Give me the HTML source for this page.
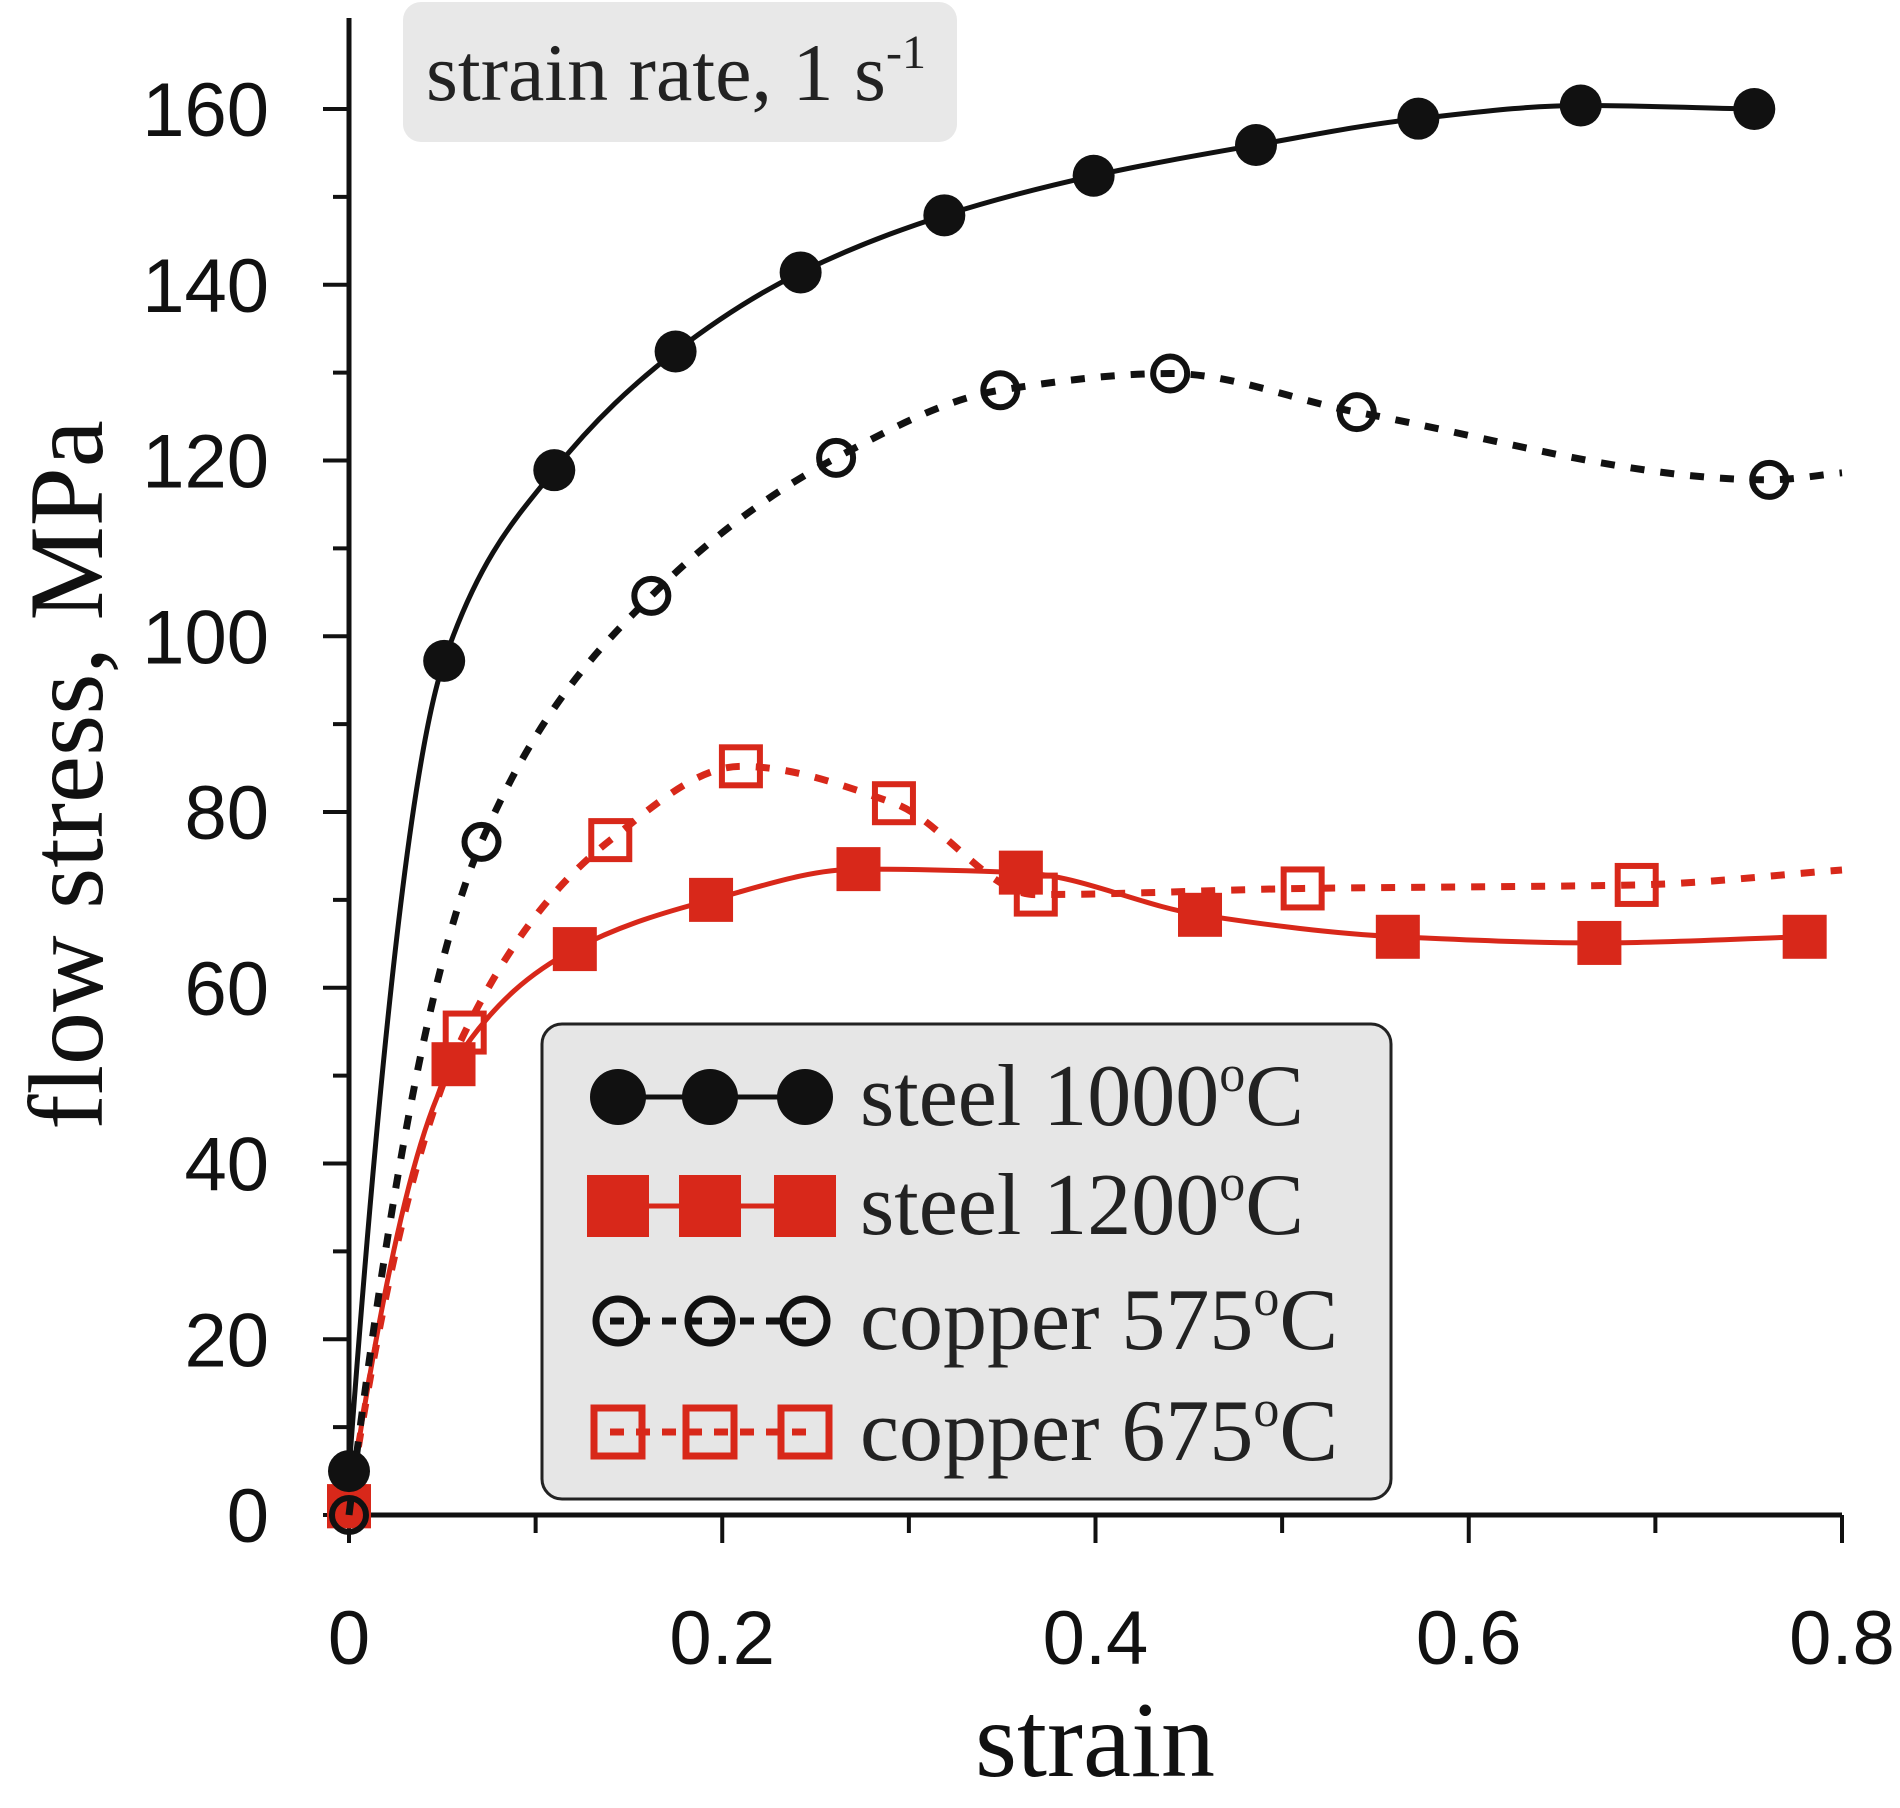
<!DOCTYPE html>
<html><head><meta charset="utf-8"><style>
html,body{margin:0;padding:0;background:#fff;}
svg{display:block;}
</style></head><body>
<svg id="chart" width="1900" height="1808" viewBox="0 0 1900 1808" xmlns="http://www.w3.org/2000/svg">
<rect x="403" y="2" width="554" height="140" rx="18" fill="#e8e8e8"/>
<text x="426" y="100" font-family="Liberation Serif, serif" font-size="82" fill="#222">strain rate, 1 s<tspan font-size="48" dy="-32">-1</tspan></text>
<g id="axes"></g>
<g id="series"></g>
<g id="legend"></g>
</svg>
<script>
const xTicks=[0,0.2,0.4,0.6,0.8];
const yTicks=[0,20,40,60,80,100,120,140,160];
const steel1000X=[0,0.051,0.11,0.175,0.242,0.319,0.399,0.486,0.573,0.66,0.753];
const steel1000Y=[5,97.2,118.9,132.4,141.4,147.9,152.4,155.9,158.9,160.4,160];
const copper575X=[0,0.071,0.162,0.261,0.349,0.44,0.54,0.761];
const copper575Y=[0,76.6,104.6,120.3,128,129.9,125.5,117.8];
const steel1200X=[0,0.056,0.121,0.194,0.273,0.36,0.456,0.562,0.67,0.78];
const steel1200Y=[1,51.3,64.4,70,73.5,73.1,68.3,65.8,65.1,65.8];
const copper675X=[0,0.062,0.14,0.21,0.292,0.368,0.511,0.69];
const copper675Y=[1,54.9,76.8,85.2,81,70.6,71.3,71.7];
const copper575EndX=0.8, copper575EndY=118.6;
const copper675EndX=0.8, copper675EndY=73.4;

const X0=349,X1=1842,Y0=1515,Y1=109;
const sx=v=>X0+(X1-X0)*v/0.8;
const sy=v=>Y0-(Y0-Y1)*v/160;
const NS='http://www.w3.org/2000/svg';
function mk(tag,attrs,parent){const e=document.createElementNS(NS,tag);for(const k in attrs)e.setAttribute(k,attrs[k]);parent.appendChild(e);return e;}
const axes=document.getElementById('axes');
const series=document.getElementById('series');
const legend=document.getElementById('legend');

let a=mk('line',{x1:X0,y1:Y0,x2:X0,y2:18,stroke:'#111','stroke-width':5},axes);


a=mk('line',{x1:X0,y1:Y0,x2:X1,y2:Y0,stroke:'#111','stroke-width':5},axes);


for(let v=0;v<=160;v+=10){const major=v%20===0;const t=mk('line',{x1:X0-(major?26:16),y1:sy(v),x2:X0,y2:sy(v),stroke:'#111','stroke-width':4},axes);

}
yTicks.forEach(v=>{const t=mk('text',{x:X0-80,y:sy(v)+27,'text-anchor':'end','font-family':'Liberation Sans, sans-serif','font-size':76,fill:'#111'},axes);t.textContent=v;

});
for(let i=0;i<=8;i++){const v=i*0.1;const major=i%2===0;const t=mk('line',{x1:sx(v),y1:Y0,x2:sx(v),y2:Y0+(major?28:18),stroke:'#111','stroke-width':4},axes);

}
xTicks.forEach(v=>{const t=mk('text',{x:sx(v),y:1664,'text-anchor':'middle','font-family':'Liberation Sans, sans-serif','font-size':76,fill:'#111'},axes);t.textContent=v===0?'0':String(v);

});
let tt=mk('text',{x:1095,y:1776,'text-anchor':'middle','font-family':'Liberation Serif, serif','font-size':108,fill:'#111'},axes);tt.textContent='strain';


tt=mk('text',{x:0,y:0,'text-anchor':'middle','font-family':'Liberation Serif, serif','font-size':106,fill:'#111',transform:'translate(102,775) rotate(-90)'},axes);tt.textContent='flow stress, MPa';



function smoothPath(xs,ys){
  const p=xs.map((x,i)=>[sx(x),sy(ys[i])]);
  const n=p.length;
  const d=[],m=[];
  for(let i=0;i<n-1;i++)d.push((p[i+1][1]-p[i][1])/(p[i+1][0]-p[i][0]));
  for(let i=0;i<n;i++){
    if(i===0)m.push(d[0]*1.6);
    else if(i===n-1)m.push(d[n-2]);
    else if(d[i-1]*d[i]<=0)m.push(0);
    else{const h0=p[i][0]-p[i-1][0],h1=p[i+1][0]-p[i][0];
      m.push(3*(h0+h1)/((2*h1+h0)/d[i-1]+(h1+2*h0)/d[i]));}
  }
  let s='M'+p[0][0]+','+p[0][1];
  for(let i=0;i<n-1;i++){
    const h=(p[i+1][0]-p[i][0])/3;
    s+=' C'+(p[i][0]+h)+','+(p[i][1]+m[i]*h)+' '+(p[i+1][0]-h)+','+(p[i+1][1]-m[i+1]*h)+' '+p[i+1][0]+','+p[i+1][1];
  }
  return s;
}
const BLACK='#111',RED='#d8281a';
function drawSeries(name,xs,ys,color,dashed,marker,filled,endX,endY){
  const lx=endX!==undefined?xs.concat([endX]):xs;
  const ly=endY!==undefined?ys.concat([endY]):ys;
  const ln=mk('path',{d:smoothPath(lx,ly),fill:'none',stroke:color,'stroke-width':dashed?7:5,'stroke-dasharray':dashed?'14 16':'none'},series);
  
  
  xs.forEach((x,i)=>{
    const cx=sx(x),cy=sy(ys[i]);let m;
    if(marker==='circle')m=mk('circle',{cx:cx,cy:cy,r:filled?21:17,fill:filled?color:'none',stroke:color,'stroke-width':filled?0:6},series);
    else m=mk('rect',{x:cx-(filled?22:19),y:cy-(filled?22:19),width:filled?44:38,height:filled?44:38,fill:filled?color:'none',stroke:color,'stroke-width':filled?0:6},series);
    
    
  });
}
drawSeries('copper-675c',copper675X,copper675Y,RED,true,'square',false,copper675EndX,copper675EndY);
drawSeries('steel-1200c',steel1200X,steel1200Y,RED,false,'square',true);
drawSeries('copper-575c',copper575X,copper575Y,BLACK,true,'circle',false,copper575EndX,copper575EndY);
drawSeries('steel-1000c',steel1000X,steel1000Y,BLACK,false,'circle',true);

let lb=mk('rect',{x:542,y:1024,width:849,height:475,rx:20,fill:'#e6e6e6',stroke:'#222','stroke-width':3},legend);


const legItems=[['steel 1000','circle',true,BLACK,false,1097],['steel 1200','square',true,RED,false,1206],['copper 575','circle',false,BLACK,true,1321],['copper 675','square',false,RED,true,1432]];
legItems.forEach(it=>{
  const [label,marker,filled,color,dashed,y]=it;
  const g=mk('g',{},legend);
  
  
  mk('line',{x1:610,y1:y,x2:810,y2:y,stroke:color,'stroke-width':dashed?7:5,'stroke-dasharray':dashed?'14 12':'none'},g);
  [618,710,805].forEach(cx=>{
    if(marker==='circle')mk('circle',{cx:cx,cy:y,r:filled?28:22,fill:filled?color:'none',stroke:color,'stroke-width':filled?0:7},g);
    else mk('rect',{x:cx-(filled?31:24),y:y-(filled?31:24),width:filled?62:48,height:filled?62:48,fill:filled?color:'none',stroke:color,'stroke-width':filled?0:7},g);
  });
  const t=mk('text',{x:860,y:y+28,'font-family':'Liberation Serif, serif','font-size':88,fill:'#222'},g);
  t.textContent=label;
  const s=mk('tspan',{'font-size':52,dy:-34},t);s.textContent='o';
  const c=mk('tspan',{dy:34},t);c.textContent='C';
});
</script>
</body></html>
